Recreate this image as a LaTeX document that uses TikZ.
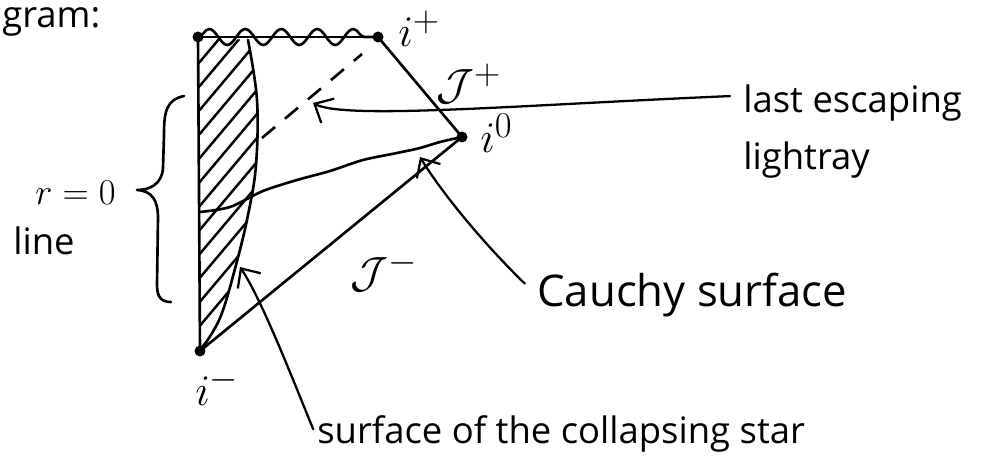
\documentclass[tikz,border=0pt]{standalone}
\usepackage{fontspec}
\setmainfont{Open Sans}
\usepackage{tikz}
\usetikzlibrary{arrows.meta,decorations.pathmorphing,positioning}

\begin{document}
\begin{tikzpicture}[
  x=0.02cm, y=-0.02cm,
  line cap=round, line join=round,
  font=\huge,
  dot/.style={circle, fill, inner sep=0pt, minimum size=2.2mm},
  world/.style={line width=1.5pt},
  hatchline/.style={line width=1.4pt},
  ray/.style={world, line cap=butt, dash pattern=on 3.4mm off 2.6mm},
  pointer/.style={-{Straight Barb[length=3mm, width=5.5mm]}, line width=1.3pt},
  tag/.style={inner sep=0pt, anchor=base west, font=\Huge},
  note/.style={inner sep=0pt, anchor=base west}
]
  \useasboundingbox (0,0) rectangle (982,472);

  % corners of the diagram
  \node[dot] (rzero) at (198,37) {};
  \node[dot] (iplus) at (378,37) {};
  \node[dot] (izero) at (462,137) {};
  \node[dot] (iminus) at (200,351) {};
  \coordinate (startop) at (248,40);
  \coordinate (cauchyfoot) at (200,212);
  \coordinate (raylow) at (262,138);
  \coordinate (rayhigh) at (362,54);

  % hatched star interior
  \begin{scope}
    \clip plot[smooth, tension=0.6] coordinates {(startop) (257,100) (256,165) (248,215) (236,265) (220,318) (iminus.center)}
      -- (rzero.center) -- cycle;
    \foreach \k in {0,...,12} {
      \draw[hatchline] (198,64+24*\k) -- ++(64,-76);
    }
  \end{scope}

  \draw[world] (rzero.center) -- (iplus.center);
  \draw[world, decorate, decoration={snake, segment length=7.2mm, amplitude=1.6mm}] (rzero.center) -- (iplus.center);
  \draw[world] (rzero.center) -- (iminus.center);
  \draw[world] (iplus.center) -- (izero.center);
  \draw[world] (izero.center) -- (iminus.center);
  \draw[world] plot[smooth, tension=0.6] coordinates {(startop) (257,100) (256,165) (248,215) (236,265) (220,318) (iminus.center)};
  \draw[world] plot[smooth] coordinates {(cauchyfoot) (230,207) (263,191) (297,180) (330,171) (363,160) (397,153) (420,148) (440,142) (izero.center)};
  \draw[ray] (raylow) -- (rayhigh);

  % labels
  \node[tag] (iplustag) at (398,47) {$i^{+}$};
  \node[tag] (izerotag) at (480,153) {$i^{0}$};
  \node[tag] (iminustag) at (195,405) {$i^{-}$};
  \node[tag] (scriplus) at (436,100) {$\mathcal{J}^{+}$};
  \node[tag] (scriminus) at (350,288) {$\mathcal{J}^{-}$};
  \node[note] (rlabel) at (35,205) {$r=0$};
  \node[note] (linelabel) at (13,255) {line};
  \node[note] (gram) at (2,28) {gram:};
  \node[note] (escape) at (743,113) {last escaping};
  \node[note] (lightray) at (743,170) {lightray};
  \node[note, font=\Huge] (cauchy) at (537,307) {Cauchy surface};
  \node[note] (starlabel) at (317,443) {surface of the collapsing star};

  % brace for the r=0 line
  \draw[world] (184,96) .. controls (166,100) and (164,112) .. (164,135) -- (163,168)
    .. controls (162,184) and (150,190) .. (137,190)
    .. controls (152,191) and (158,200) .. (158,218) -- (157,285)
    .. controls (157,298) and (162,302) .. (171,302);

  % pointers
  \coordinate (raytip) at (313,103);
  \coordinate (cauchytip) at (420,157);
  \coordinate (startip) at (240,267);
  \draw[pointer, shorten <=2.6mm] ([yshift=1.6mm]escape.west) .. controls (520,105) and (345,120) .. (raytip);
  \draw[pointer, shorten <=3.4mm] (cauchy.west) .. controls (480,240) and (440,190) .. (cauchytip);
  \draw[pointer, shorten <=2mm] ([yshift=-1mm]starlabel.west) .. controls (293,380) and (262,300) .. (startip);
\end{tikzpicture}
\end{document}
